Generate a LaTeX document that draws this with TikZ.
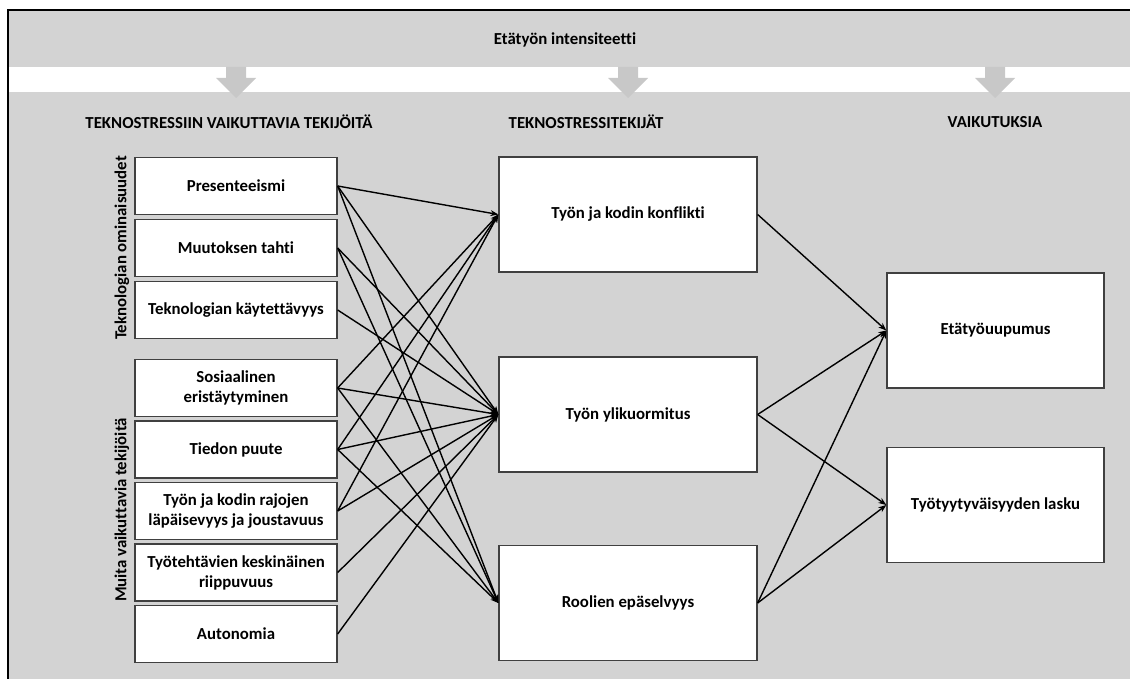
\documentclass[tikz,border=0pt]{standalone}
\usepackage{fontspec}
\setmainfont{Carlito}[Ligatures=NoCommon]
\usetikzlibrary{arrows.meta}
\definecolor{bg}{RGB}{211,211,211}
\definecolor{barrow}{RGB}{200,200,200}
\definecolor{boxline}{RGB}{64,64,64}
\begin{document}
\begin{tikzpicture}[x=1pt,y=-1pt,
  txt/.style={font=\bfseries\fontsize{16.8}{20}\selectfont},
  box/.style={txt,draw=boxline,line width=1.3pt,fill=white,align=center,inner sep=2pt},
  lbox/.style={box,minimum width=202pt,minimum height=57pt},
  mbox/.style={box,minimum width=258pt,minimum height=115pt},
  ebox/.style={box,minimum width=217pt,minimum height=115pt},
  conn/.style={line width=1.4pt,-{Stealth[length=8pt,width=6pt]}},
  hdr/.style={txt}]
\useasboundingbox (0,0) rectangle (1130,679);
\fill[white] (0,0) rectangle (1130,679);
\fill[bg] (8,10) rectangle (1130,679);
\fill[white] (8,67) rectangle (1130,92);
\draw[line width=2.5pt] (8,680) -- (8,10) -- (1131,10);
\foreach \c in {236,628,995}
  \fill[barrow] (\c-10,67) -- (\c+10,67) -- (\c+10,78) -- (\c+20,78) -- (\c,98) -- (\c-20,78) -- (\c-10,78) -- cycle;
\node[hdr] (top) at (565,40) {Etätyön intensiteetti};
\node[hdr] (h1) at (229,122) {TEKNOSTRESSIIN VAIKUTTAVIA TEKIJÖITÄ};
\node[hdr] (h2) at (586,122) {TEKNOSTRESSITEKIJÄT};
\node[hdr] (h3) at (995,122) {VAIKUTUKSIA};
\node[hdr,rotate=90] (s1) at (122,248) {Teknologian ominaisuudet};
\node[hdr,rotate=90] (s2) at (122,510) {Muita vaikuttavia tekijöitä};
\node[lbox] (L1) at (236,186) {Presenteeismi};
\node[lbox] (L2) at (236,248) {Muutoksen tahti};
\node[lbox] (L3) at (236,310) {Teknologian käytettävyys};
\node[lbox] (L4) at (236,388) {Sosiaalinen\\eristäytyminen};
\node[lbox] (L5) at (236,449.5) {Tiedon puute};
\node[lbox] (L6) at (236,511) {Työn ja kodin rajojen\\läpäisevyys ja joustavuus};
\node[lbox] (L7) at (236,572.5) {Työtehtävien keskinäinen\\riippuvuus};
\node[lbox] (L8) at (236,634) {Autonomia};
\node[mbox] (M1) at (628,214.5) {Työn ja kodin konflikti};
\node[mbox] (M2) at (628,414.5) {Työn ylikuormitus};
\node[mbox] (M3) at (628,603) {Roolien epäselvyys};
\node[ebox] (E1) at (995.5,330.5) {Etätyöuupumus};
\node[ebox] (E2) at (995.5,505) {Työtyytyväisyyden lasku};
\foreach \s/\t in {L1/M1,L1/M2,L1/M3,L2/M2,L2/M3,L3/M2,L4/M1,L4/M2,L4/M3,L5/M1,L5/M2,L5/M3,L6/M1,L6/M2,L7/M2,L8/M2,M1/E1,M2/E1,M2/E2,M3/E1,M3/E2}
  \draw[conn] (\s.east) -- (\t.west);
\end{tikzpicture}
\end{document}
